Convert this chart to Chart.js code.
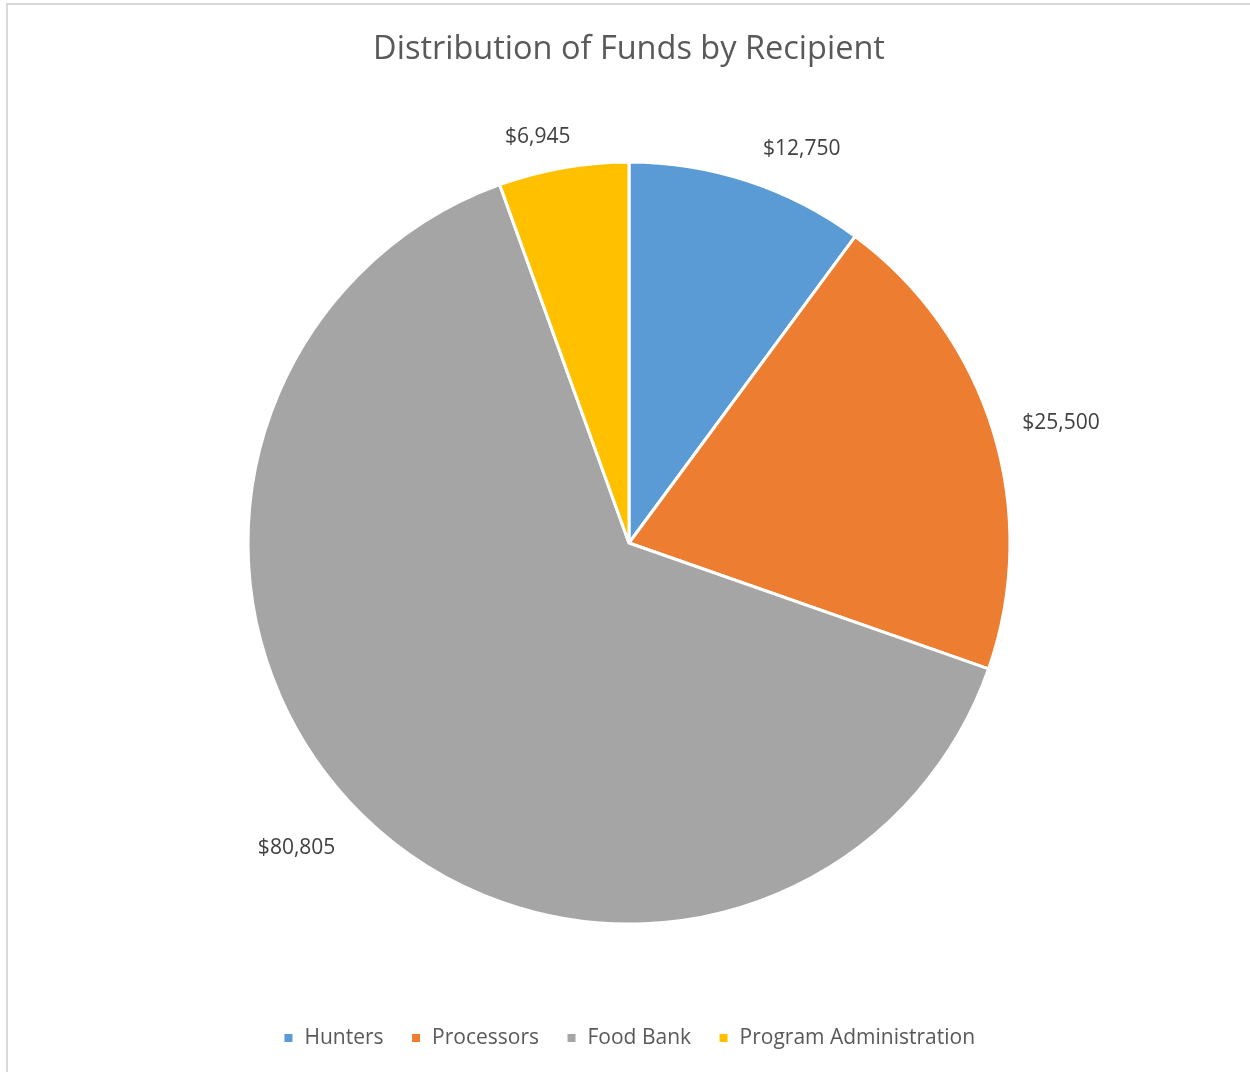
<!DOCTYPE html>
<html>
<head>
<meta charset="utf-8">
<script src="https://cdn.jsdelivr.net/npm/chart.js@4"></script>
<style>
  html, body { margin: 0; padding: 0; background: #fff; }
  #frame { position: absolute; left: 6px; top: 3px; width: 1300px; height: 1100px; border: 2px solid #d9d9d9; box-sizing: border-box; }
  #wrap { position: absolute; left: 0; top: 0; width: 1250px; height: 1072px; }
</style>
</head>
<body>
<div id="frame"></div>
<div id="wrap"><canvas id="chart" width="1250" height="1072"></canvas></div>
<script>
const recipients = ['Hunters', 'Processors', 'Food Bank', 'Program Administration'];
const funds = [12750, 25500, 80805, 6945];
const sliceColors = ['#5B9BD5', '#ED7D31', '#A5A5A5', '#FFC000'];

const FONT = "'Open Sans', sans-serif";

const formatMoney = (v) => '$' + v.toLocaleString('en-US');

// outside labels, placed around each slice's middle angle
const outsideLabels = {
  id: 'outsideLabels',
  afterDatasetsDraw(chart, args, opts) {
    const ctx = chart.ctx;
    const meta = chart.getDatasetMeta(0);
    ctx.save();
    ctx.font = `21px ${FONT}`;
    ctx.fillStyle = '#404040';
    ctx.textAlign = 'center';
    ctx.textBaseline = 'middle';
    meta.data.forEach((arc, i) => {
      const mid = (arc.startAngle + arc.endAngle) / 2 + opts.nudge[i] * Math.PI / 180;
      const d = arc.outerRadius * opts.dist[i];
      ctx.fillText(formatMoney(funds[i]), arc.x + Math.cos(mid) * d, arc.y + Math.sin(mid) * d + 1.5);
    });
    ctx.restore();
  }
};

new Chart(document.getElementById('chart'), {
  type: 'pie',
  data: {
    labels: recipients,
    datasets: [{
      data: funds,
      backgroundColor: sliceColors,
      borderColor: '#ffffff',
      borderWidth: 3,
      radius: 381
    }]
  },
  options: {
    responsive: false,
    animation: false,
    layout: { padding: { left: 8, right: 0, top: 0, bottom: 13.5 } },
    plugins: {
      title: {
        display: true,
        text: 'Distribution of Funds by Recipient',
        color: '#595959',
        font: { family: FONT, size: 32.5, weight: 'normal' },
        padding: { top: 30, bottom: 16.5 }
      },
      legend: {
        position: 'bottom',
        labels: {
          color: '#595959',
          font: { family: FONT, size: 21 },
          boxWidth: 11,
          boxHeight: 11,
          padding: 27
        }
      },
      tooltip: { enabled: false },
      outsideLabels: {
        nudge: [5.4, 1.4, 2.9, -2.7],
        dist: [1.132, 1.178, 1.181, 1.097]
      }
    }
  },
  plugins: [outsideLabels]
});
</script>
</body>
</html>
